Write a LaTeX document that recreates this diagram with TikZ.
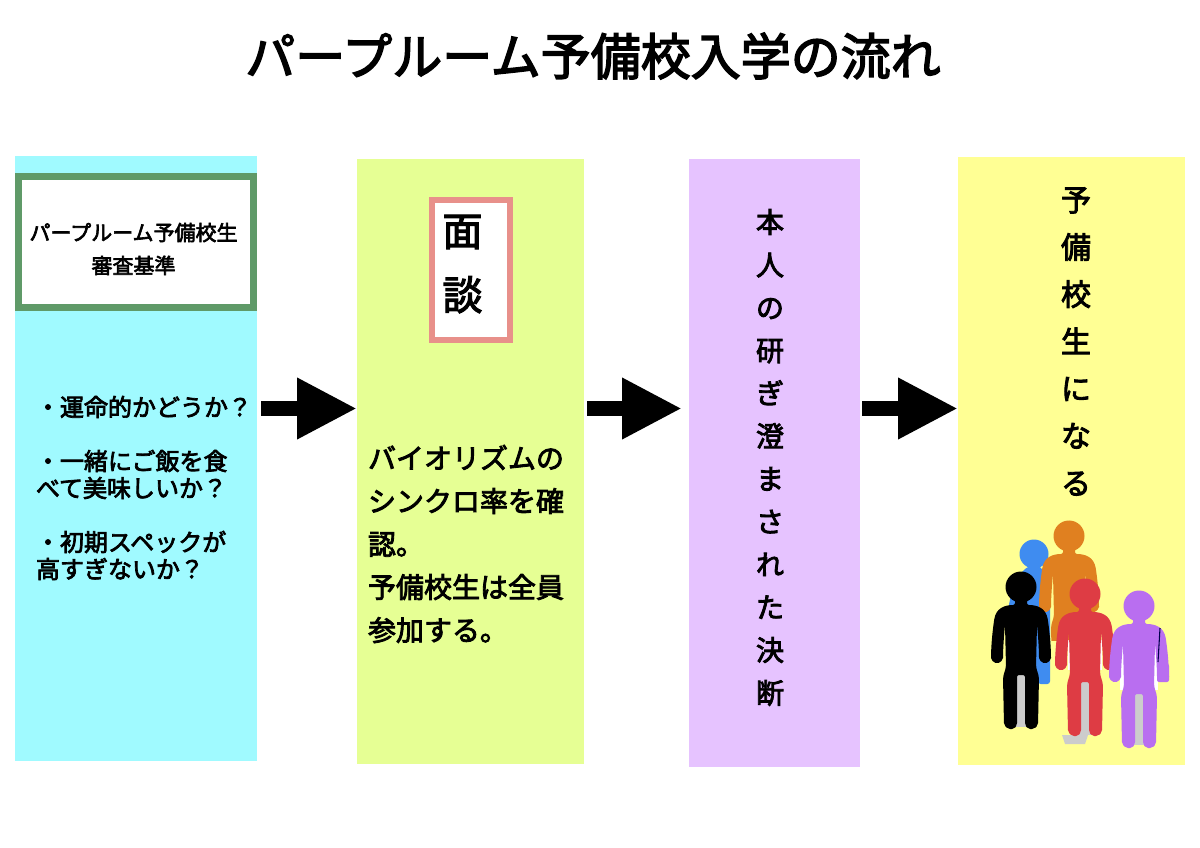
\documentclass[tikz,border=0pt]{standalone}
\usepackage{fontspec}
\setmainfont[FakeBold=3]{Noto Sans CJK JP}
\usetikzlibrary{arrows.meta}
\definecolor{cyanbox}{HTML}{A0FAFF}
\definecolor{limebox}{HTML}{E6FF94}
\definecolor{lilacbox}{HTML}{E6C3FF}
\definecolor{yellowbox}{HTML}{FFFF94}
\definecolor{framegreen}{HTML}{5F9A68}
\definecolor{framepink}{HTML}{E8908A}
\definecolor{pblue}{HTML}{3F8CF0}
\definecolor{porange}{HTML}{E08020}
\definecolor{pred}{HTML}{DE3C44}
\definecolor{ppurple}{HTML}{B96EF0}
\newcommand{\fpx}[2]{\fontsize{\dimexpr #1pt*3/4\relax}{\dimexpr #2pt*3/4\relax}\selectfont}
\newcommand{\personat}[3]{%
  \fill[#1] (#2,#3) circle (15.5);
  \fill[#1,shift={(#2,#3)},rounded corners=1.5pt]
  (-6,8) -- (-6,18) .. controls (-16,18) and (-25,21) .. (-27,34)
  .. controls (-29,48) and (-30,62) .. (-30,73)
  -- (-24,77) -- (-18,73) .. controls (-18,62) and (-17,48) .. (-16,38)
  -- (-15,80) -- (-18,90) -- (-17,138)
  -- (-13,142) -- (-7,142) -- (-4,138) -- (-4,88) -- (4,88) -- (4,138)
  -- (7,142) -- (13,142) -- (17,138) -- (18,90) -- (15,80)
  -- (16,38) .. controls (17,48) and (18,62) .. (18,73)
  -- (24,77) -- (30,73) .. controls (30,62) and (29,48) .. (27,34)
  .. controls (25,21) and (16,18) .. (6,18) -- (6,8) -- cycle;
}
\tikzset{
  x=0.75pt,y=-0.75pt,
  panel/.style={anchor=north west,inner sep=0pt,outer sep=0pt},
  txt/.style={inner sep=0pt,outer sep=0pt,text=black},
  framebox/.style={anchor=north west,inner sep=0pt,outer sep=0pt,fill=white},
  blockarrow/.style={line width=11.25pt,black,-{Triangle[length=45pt,width=43pt]}},
}
\begin{document}
\begin{tikzpicture}
\useasboundingbox (0,0) rectangle (1200,848);
\fill[white] (0,0) rectangle (1200,848);
\node[txt,font=\fpx{50}{60}] (title) at (593,56) {パープルーム予備校入学の流れ};

\node[panel,fill=cyanbox,minimum width=242*0.75pt,minimum height=605*0.75pt] (b1) at (15,156) {};
\node[panel,fill=limebox,minimum width=227*0.75pt,minimum height=605*0.75pt] (b2) at (357,159) {};
\node[panel,fill=lilacbox,minimum width=171*0.75pt,minimum height=608*0.75pt] (b3) at (689,159) {};
\node[panel,fill=yellowbox,minimum width=227*0.75pt,minimum height=608*0.75pt] (b4) at (958,157) {};

\node[framebox,draw=framegreen,line width=5.25pt,minimum width=235*0.75pt,minimum height=131*0.75pt] (f1) at (18.5,176.5) {};
\node[txt,align=center,font=\fpx{21}{33}] (f1t) at (133.5,249) {パープルーム予備校生\\審査基準};
\node[framebox,draw=framepink,line width=4.5pt,minimum width=78*0.75pt,minimum height=140*0.75pt] (f2) at (432,200) {};
\node[txt,align=center,font=\fpx{40}{64}] (f2t) at (462.5,264) {面\\談};

\node[txt,align=left,anchor=west,font=\fpx{24}{27}] (t1) at (36,488) {・運命的かどうか？\\\mbox{}\\・一緒にご飯を食\\べて美味しいか？\\\mbox{}\\・初期スペックが\\高すぎないか？};
\node[txt,align=left,anchor=west,font=\fpx{28}{43}] (t2) at (368,544) {バイオリズムの\\シンクロ率を確\\認。\\予備校生は全員\\参加する。};
\node[txt,align=center,font=\fpx{28}{42.8}] (t3) at (770,457.5) {本\\人\\の\\研\\ぎ\\澄\\ま\\さ\\れ\\た\\決\\断};
\node[txt,align=center,font=\fpx{30}{47.2}] (t4) at (1076,341.5) {予\\備\\校\\生\\に\\な\\る};

\coordinate (arrowy) at (0,408.5);
\draw[blockarrow,shorten <=3pt] (b1.east |- arrowy) -- (b2.west |- arrowy);
\draw[blockarrow,shorten <=2.25pt,shorten >=5.25pt] (b2.east |- arrowy) -- (b3.west |- arrowy);
\draw[blockarrow,shorten <=1.5pt] (b3.east |- arrowy) -- (b4.west |- arrowy);

% people
\fill[pblue] (1034,554) circle (14.5);
\fill[pblue,rounded corners=2pt] (1008,612) .. controls (1012,580) and (1025,566) .. (1034,566)
  .. controls (1046,566) and (1050,590) .. (1050,610) -- (1050,684) -- (1038,684) -- (1030,640) -- cycle;
\begin{scope}
\clip (1030,510) rectangle (1110,640);
\personat{porange}{1069}{536}
\fill[porange] (1054,570) rectangle (1084,640);
\end{scope}
\fill[white] (1008,625) rectangle (1034,660);
\fill[black!20] (1015,660) rectangle (1029,727);
\personat{black}{1021}{587}
\fill[black!20] (1062,735) -- (1088,735) -- (1085,744) -- (1065,744) -- cycle;
\fill[white] (1068,640) rectangle (1102,670);
\fill[black!20] (1078,670) rectangle (1092,735);
\personat{pred}{1085}{594}
\fill[white] (1120,640) rectangle (1158,690);
\fill[black!20] (1132,690) rectangle (1146,745);
\personat{ppurple}{1139}{606}
\fill[ppurple,rounded corners=1.5] (1157,664) rectangle (1169,682);
\draw[black!70!blue,line width=.8pt] (1160,628) -- (1158,662);
\end{tikzpicture}
\end{document}
